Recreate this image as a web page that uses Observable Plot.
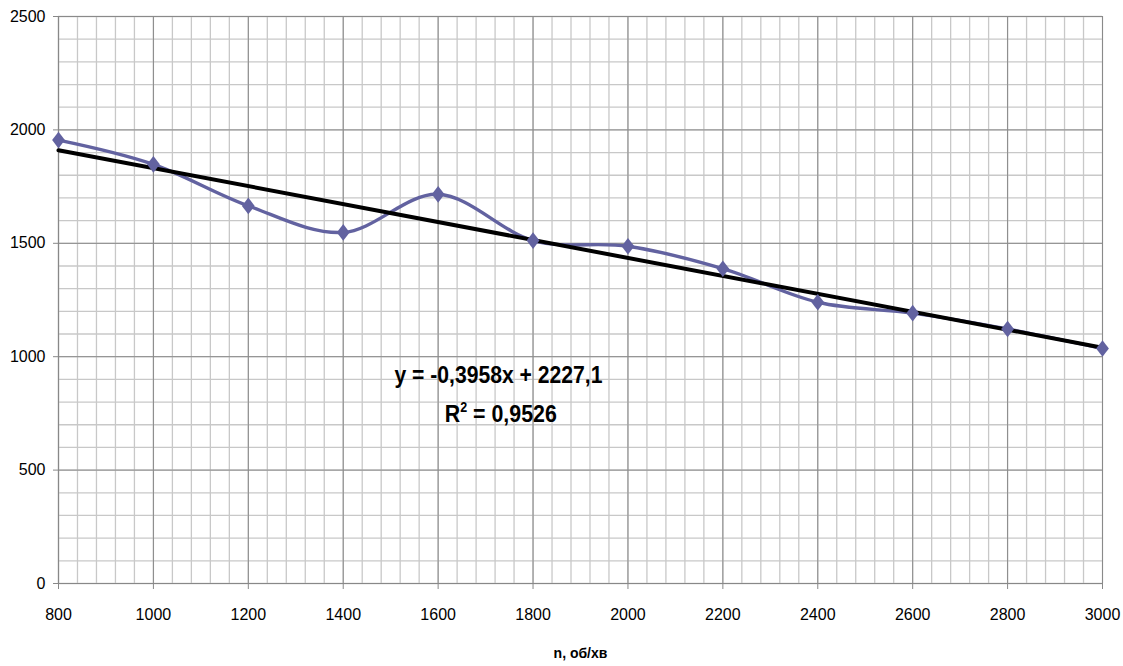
<!DOCTYPE html>
<html><head><meta charset="utf-8">
<script src="https://cdn.jsdelivr.net/npm/d3@7"></script>
<script src="https://cdn.jsdelivr.net/npm/@observablehq/plot@0.6"></script>
<style>
body{margin:0;background:#fff;}
#chart svg{display:block;}
</style>
</head><body><div id="chart"></div>
<script>
// Data
const speeds = [800, 1000, 1200, 1400, 1600, 1800, 2000, 2200, 2400, 2600, 2800, 3000];
const values = [1955, 1848, 1665, 1548, 1716, 1512, 1487, 1388, 1240, 1192, 1122, 1036];
const slope = -0.3958;
const intercept = 2227.1;
const r2 = 0.9526;
const xTicks = [800, 1000, 1200, 1400, 1600, 1800, 2000, 2200, 2400, 2600, 2800, 3000];
const yTicks = [0, 500, 1000, 1500, 2000, 2500];
const xLabel = "n, об/хв";
const eqText = "y = -0,3958x + 2227,1";
const r2Text = "R² = 0,9526";

const data = speeds.map((n, i) => ({n, v: values[i]}));
const trend = [speeds[0], speeds[speeds.length - 1]].map(n => ({n, v: slope * n + intercept}));
const xMinor = d3.range(xTicks[0], xTicks[xTicks.length - 1] + 1, 40);
const yMinor = d3.range(yTicks[0], yTicks[yTicks.length - 1] + 1, 100);

// Slightly tall diamond, like the spreadsheet marker
const tallDiamond = {
  draw(context, size) {
    const w = Math.sqrt(size / Math.PI);
    const h = w * 1.3;
    context.moveTo(0, -h);
    context.lineTo(w, 0);
    context.lineTo(0, h);
    context.lineTo(-w, 0);
    context.closePath();
  }
};

const font = "'Liberation Sans', Arial, sans-serif";

const chart = Plot.plot({
  width: 1123,
  height: 666,
  marginLeft: 58,
  marginRight: 21,
  marginTop: 16,
  marginBottom: 83,
  style: {fontFamily: font, fontSize: "16px", color: "#000", background: "#fff"},
  x: {domain: [800, 3000], ticks: xTicks},
  y: {domain: [0, 2500], ticks: yTicks},
  marks: [
    Plot.ruleX(xMinor, {stroke: "#c8c8c8", strokeWidth: 1.3}),
    Plot.ruleY(yMinor, {stroke: "#c8c8c8", strokeWidth: 1.3}),
    Plot.ruleX(xTicks, {stroke: "#8a8a8a", strokeWidth: 1}),
    Plot.ruleY(yTicks, {stroke: "#8a8a8a", strokeWidth: 1}),
    Plot.axisY({ticks: yTicks, tickSize: 5, tickPadding: 8, stroke: "#888", label: null, tickFormat: d => String(d), fontSize: 16}),
    Plot.axisX({ticks: xTicks, tickSize: 6, tickPadding: 19, stroke: "#888", label: null, tickFormat: d => String(d), fontSize: 16}),
    Plot.ruleX([800], {stroke: "#888", strokeWidth: 1.2}),
    Plot.ruleY([0], {stroke: "#888", strokeWidth: 1.2}),
    Plot.line(data, {x: "n", y: "v", stroke: "#6262a0", strokeWidth: 3.4, curve: "cardinal"}),
    Plot.line(trend, {x: "n", y: "v", stroke: "#000", strokeWidth: 4}),
    Plot.dot(data, {x: "n", y: "v", symbol: tallDiamond, r: 6.4, fill: "#6262a0", stroke: "none"}),
    Plot.text([eqText], {x: 1727, y: 916, text: d => d, fontSize: 24, fontWeight: "bold", textAnchor: "middle", fill: "#000"}),
    Plot.text([r2Text], {x: 1732, y: 748, text: d => d, fontSize: 24, fontWeight: "bold", textAnchor: "middle", fill: "#000"}),
    Plot.text([xLabel], {frameAnchor: "bottom", dy: 74, text: d => d, fontSize: 14, fontWeight: "bold", fill: "#000"})
  ]
});
document.getElementById("chart").appendChild(chart);

// Condense the bold annotation text like the original narrow face
d3.select(chart).selectAll("text").each(function() {
  const t = this.textContent;
  if (t === eqText) {
    this.setAttribute("textLength", 208);
    this.setAttribute("lengthAdjust", "spacingAndGlyphs");
  } else if (t === r2Text) {
    const el = d3.select(this);
    el.text(null);
    el.append("tspan").text("R");
    el.append("tspan").attr("font-size", 14).attr("dy", -10).text("2");
    el.append("tspan").attr("dy", 10).text(" = 0,9526");
    this.setAttribute("textLength", 112);
    this.setAttribute("lengthAdjust", "spacingAndGlyphs");
  }
});
</script>
</body></html>
